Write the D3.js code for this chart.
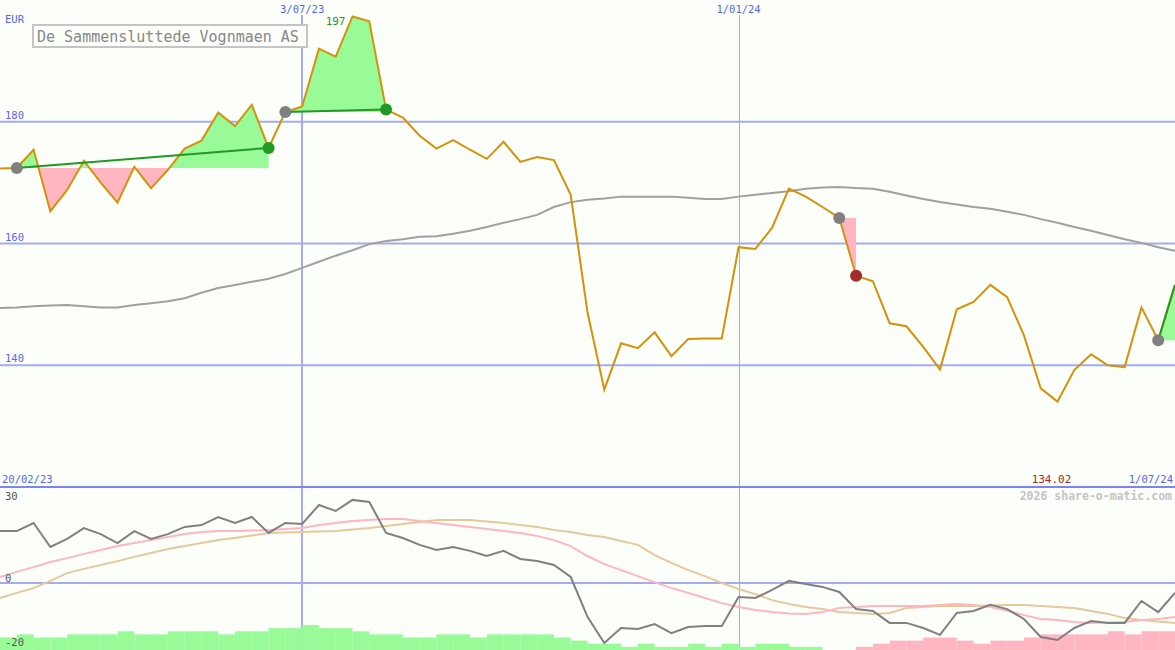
<!DOCTYPE html>
<html>
<head>
<meta charset="utf-8">
<script src="https://cdn.jsdelivr.net/npm/d3@7"></script>
<style>
  html, body { margin: 0; padding: 0; background: #fcfefa; }
  svg { display: block; }
  text { font-family: "DejaVu Sans Mono", "Liberation Mono", monospace; }
</style>
</head>
<body>
<script>
// ---------------- DATA ----------------
const title = "De Sammensluttede Vognmaen AS";
const currency = "EUR";
const firstWeek = "2023-02-27";
const lastWeek = "2024-07-01";

// weekly closing price (EUR)
const price = [172.3,172.4,175.4,165.3,168.8,173.6,170.0,166.7,172.6,169.1,
  172.1,175.6,176.9,181.5,179.3,182.8,175.7,181.6,182.5,192.0,
  190.7,197.3,196.5,182.0,180.7,177.7,175.6,177.0,175.4,173.9,
  176.7,173.4,174.2,173.7,168.0,148.7,136.0,143.6,142.8,145.4,
  141.5,144.3,144.4,144.4,159.4,159.1,162.6,169.0,167.7,166.0,
  164.2,154.7,153.8,146.9,146.4,143.0,139.3,149.2,150.4,153.2,
  151.2,144.9,136.2,134.02,139.2,141.8,140.0,139.7,149.5,144.1,153.2];

// long moving average of price
const priceMA = [149.4,149.5,149.7,149.8,149.9,149.7,149.5,149.5,149.9,150.2,
  150.5,151.0,151.9,152.7,153.2,153.7,154.2,155.0,156.0,157.0,
  158.0,158.9,159.9,160.4,160.7,161.1,161.2,161.6,162.1,162.7,
  163.4,164.0,164.7,166.0,166.8,167.2,167.4,167.7,167.7,167.7,
  167.7,167.5,167.3,167.3,167.7,168.0,168.3,168.6,169.0,169.2,
  169.3,169.1,169.0,168.5,167.9,167.3,166.8,166.4,166.0,165.7,
  165.2,164.7,164.0,163.4,162.7,162.1,161.4,160.7,160.1,159.4,158.8];

// lower panel: momentum (gray), fast average (pink), slow average (tan)
const momentum = [17.3,17.3,20,12,14.7,18.3,16.3,13.3,17.3,14.7,
  16.3,18.7,19.3,22,20,22,16.7,20,19.7,26,
  24,27.7,27,16.7,15,12.7,11,12,10.7,9,
  10.7,8,7.3,6,2,-11.3,-20,-15,-15.3,-13.7,
  -16.7,-14.7,-14.3,-14.3,-4.7,-5,-2.3,0.7,-0.3,-1.3,
  -3,-8.7,-9.3,-13.3,-13.3,-15,-17.3,-10,-9.3,-7.3,
  -8.7,-12,-18,-19,-15,-12.7,-13.3,-13.3,-6,-9.7,-3.3];

const fastAvg = [2,3.7,5.3,7,8.3,9.7,11,12.3,13.3,14.3,
  15.3,16.3,17,17.3,17.3,17.5,17.7,18,18.3,19.3,
  20,20.7,21,21.3,21.3,20.7,20,19.3,18.7,18,
  17.3,16.7,15.7,14.3,12.3,9,6.3,4.3,2.3,0.3,
  -1.7,-3.3,-5,-6.7,-8,-9,-9.7,-10.2,-10.3,-9.7,
  -8.3,-8,-7.7,-7.7,-7.7,-7.7,-7.3,-7,-7.3,-8,
  -9.3,-10.7,-12,-12.3,-13,-13.3,-13.2,-13,-12.3,-12,-11.3];

const slowAvg = [-5,-3.3,-1.7,0.7,3.3,4.7,6,7.3,8.7,10,
  11.3,12.3,13.3,14.3,15,15.8,16.7,16.8,17,17.2,
  17.3,17.8,18.3,19,19.7,20.3,21,21,21,20.5,
  20,19.3,18.7,17.7,17,16,15.3,14,12.7,9.3,
  6.7,4.3,2.3,0,-2,-3.7,-5.7,-7,-8,-8.7,
  -9.7,-10,-10.3,-10,-8.3,-8,-7.7,-7.7,-7.7,-7.5,
  -7.3,-7.3,-7.7,-8,-8.3,-9.3,-10.3,-11.7,-12.3,-12.8,-13.3];

// histogram (level; sign = colour)
const histo = [4,5,4,4,5,5,5,6,5,5,
  6,6,6,5,6,6,7,7,8,7,
  7,6,5,5,4,4,5,5,4,5,
  5,5,5,4,3,2,2,1,2,1,
  1,2,1,2,1,2,2,1,1,0,
  0,-1,-2,-3,-3,-4,-4,-3,-2,-3,
  -3,-4,-5,-5,-5,-5,-6,-5,-6,-6,-6];

// trade signals: start index, end index, still open?
const signalStart = [1, 17, 50, 69];
const signalEnd   = [16, 23, 51, 70];
const signalOpen  = [false, false, false, true];

// axis ticks
const priceTicks = [180, 160, 140];
const lowerTicks = [30, 0, -20];
const gridDates = ["2023-07-03", "2024-01-01"];
const gridLabels = ["3/07/23", "1/01/24"];
const startLabel = "20/02/23";
const endLabel = "1/07/24";
const watermark = "2026 share-o-matic.com";

// ---------------- LAYOUT ----------------
const W = 1175, H = 650;
const sepY = 487;
const parse = d3.utcParse("%Y-%m-%d");
const dates = d3.utcMonday.range(parse(firstWeek), d3.utcDay.offset(parse(lastWeek), 1));

const x = d3.scaleUtc().domain([parse(firstWeek), parse(lastWeek)]).range([0, W]);
const yP = d3.scaleLinear().domain([120, 200]).range([sepY, 0]);
const yL = d3.scaleLinear().domain([-20, 30]).range([643, 493]);
const hH = d3.scaleLinear().domain([0, 8]).range([0, 25]);

const C = {
  bg: "#fcfefa", grid: "#a3acf0", sep: "#7a86ee", label: "#5566ee",
  price: "#d4920a", ma: "#a0a0a0", green: "#98fb98", pink: "#ffb6c1",
  gline: "#229922", red: "#a52a2a", gray: "#808080", tan: "#e5c99a",
  lowLabel: "#555555"
};

const svg = d3.select("body").append("svg").attr("width", W).attr("height", H);
svg.append("rect").attr("width", W).attr("height", H).attr("fill", C.bg);

const defs = svg.append("defs");
defs.append("clipPath").attr("id", "clipTop").append("rect").attr("x", 0).attr("y", 0).attr("width", W).attr("height", sepY - 1);
defs.append("clipPath").attr("id", "clipLow").append("rect").attr("x", 0).attr("y", sepY + 1).attr("width", W).attr("height", H - sepY - 1);

// ---- grid ----
const grid = svg.append("g");
priceTicks.forEach(v => {
  grid.append("line").attr("x1", 0).attr("x2", W).attr("y1", yP(v)).attr("y2", yP(v))
    .attr("stroke", C.grid).attr("stroke-width", 2);
});
grid.append("line").attr("x1", 0).attr("x2", W).attr("y1", yL(0)).attr("y2", yL(0))
  .attr("stroke", C.grid).attr("stroke-width", 2);
gridDates.forEach((d, i) => {
  const xx = Math.round(x(parse(d)));
  grid.append("line").attr("x1", xx + (i === 0 ? 0 : 0.5)).attr("x2", xx + (i === 0 ? 0 : 0.5))
    .attr("y1", 15).attr("y2", H)
    .attr("stroke", C.grid).attr("stroke-width", i === 0 ? 2 : 1);
});

// ---- top panel ----
const topG = svg.append("g").attr("clip-path", "url(#clipTop)");

// fills for signals
signalStart.forEach((s, j) => {
  const e = signalEnd[j];
  const base = price[s];
  const pts = [];
  for (let i = s; i <= e; i++) {
    pts.push({ x: x(dates[i]), v: price[i] });
    if (i < e) {
      const a = price[i] - base, b = price[i + 1] - base;
      if (a * b < 0) {
        const t = a / (a - b);
        pts.push({ x: x(dates[i]) + t * (x(dates[i + 1]) - x(dates[i])), v: base });
      }
    }
  }
  const up = d3.area().x(d => d.x).y0(yP(base)).y1(d => yP(Math.max(d.v, base)));
  const dn = d3.area().x(d => d.x).y0(yP(base)).y1(d => yP(Math.min(d.v, base)));
  topG.append("path").attr("d", up(pts)).attr("fill", C.green);
  topG.append("path").attr("d", dn(pts)).attr("fill", C.pink);
});

// moving average
topG.append("path").datum(priceMA)
  .attr("d", d3.line().x((d, i) => x(dates[i])).y(d => yP(d)))
  .attr("fill", "none").attr("stroke", C.ma).attr("stroke-width", 2);

// price line
topG.append("path").datum(price)
  .attr("d", d3.line().x((d, i) => x(dates[i])).y(d => yP(d)))
  .attr("fill", "none").attr("stroke", C.price).attr("stroke-width", 2);

// trend lines and markers
signalStart.forEach((s, j) => {
  const e = signalEnd[j];
  const gain = price[e] >= price[s];
  if (gain) {
    topG.append("line").attr("x1", x(dates[s])).attr("y1", yP(price[s]))
      .attr("x2", x(dates[e])).attr("y2", yP(price[e]))
      .attr("stroke", C.gline).attr("stroke-width", 2);
  }
  topG.append("circle").attr("cx", x(dates[s])).attr("cy", yP(price[s])).attr("r", 6).attr("fill", C.gray);
  if (!signalOpen[j]) {
    topG.append("circle").attr("cx", x(dates[e])).attr("cy", yP(price[e])).attr("r", 6)
      .attr("fill", gain ? C.gline : C.red);
  }
});

// max / min labels
const iMax = d3.maxIndex(price), iMin = d3.minIndex(price);
svg.append("text").attr("x", x(dates[iMax]) - 7).attr("y", 25).attr("text-anchor", "end")
  .attr("font-size", 11).attr("fill", C.gline).text(Math.round(price[iMax]));
svg.append("text").attr("x", x(dates[iMin]) - 6).attr("y", 483).attr("text-anchor", "middle")
  .attr("font-size", 11).attr("fill", C.red).text(price[iMin].toFixed(2));

// ---- labels top ----
const lab = svg.append("g").attr("font-size", 10.5).attr("fill", C.label);
lab.append("text").attr("x", 5).attr("y", 23).text(currency);
priceTicks.forEach(v => lab.append("text").attr("x", 5).attr("y", yP(v) - 3).text(v));
gridDates.forEach((d, i) => lab.append("text").attr("x", x(parse(d))).attr("y", 13)
  .attr("text-anchor", "middle").text(gridLabels[i]));
lab.append("text").attr("x", 2).attr("y", 483).text(startLabel);
lab.append("text").attr("x", W - 2).attr("y", 483).attr("text-anchor", "end").text(endLabel);

// title box
svg.append("rect").attr("x", 33).attr("y", 25).attr("width", 274).attr("height", 22)
  .attr("fill", C.bg).attr("stroke", "#c4c4c4").attr("stroke-width", 2);
svg.append("text").attr("x", 37).attr("y", 42).attr("font-size", 15).attr("fill", "#888888").text(title);

// separator
svg.append("line").attr("x1", 0).attr("x2", W).attr("y1", sepY).attr("y2", sepY)
  .attr("stroke", C.sep).attr("stroke-width", 2);

// ---- lower panel ----
const lowG = svg.append("g").attr("clip-path", "url(#clipLow)");
histo.forEach((v, i) => {
  if (v === 0) return;
  const x0 = x(dates[i]);
  const x1 = i + 1 < dates.length ? x(dates[i + 1]) : x0 + (x(dates[1]) - x(dates[0]));
  const h = hH(Math.abs(v));
  lowG.append("rect").attr("x", x0).attr("y", H - h).attr("width", x1 - x0).attr("height", h)
    .attr("fill", v > 0 ? C.green : C.pink);
});
const lineL = d3.line().x((d, i) => x(dates[i])).y(d => yL(d));
lowG.append("path").datum(slowAvg).attr("d", lineL).attr("fill", "none").attr("stroke", C.tan).attr("stroke-width", 2);
lowG.append("path").datum(fastAvg).attr("d", lineL).attr("fill", "none").attr("stroke", C.pink).attr("stroke-width", 2);
lowG.append("path").datum(momentum).attr("d", lineL).attr("fill", "none").attr("stroke", C.gray).attr("stroke-width", 2);

const lowLab = svg.append("g").attr("font-size", 10.5).attr("fill", C.lowLabel);
const lowMin = d3.min(lowerTicks), lowMax = d3.max(lowerTicks);
lowerTicks.forEach(v => {
  const yy = v === lowMax ? 500 : (v === lowMin ? 646 : yL(v) - 1);
  lowLab.append("text").attr("x", 5).attr("y", yy).text(v);
});
svg.append("text").attr("x", W - 3).attr("y", 500).attr("text-anchor", "end")
  .attr("font-size", 11.5).attr("font-weight", "bold").attr("fill", "#c4c4c4").text(watermark);
</script>
</body>
</html>
